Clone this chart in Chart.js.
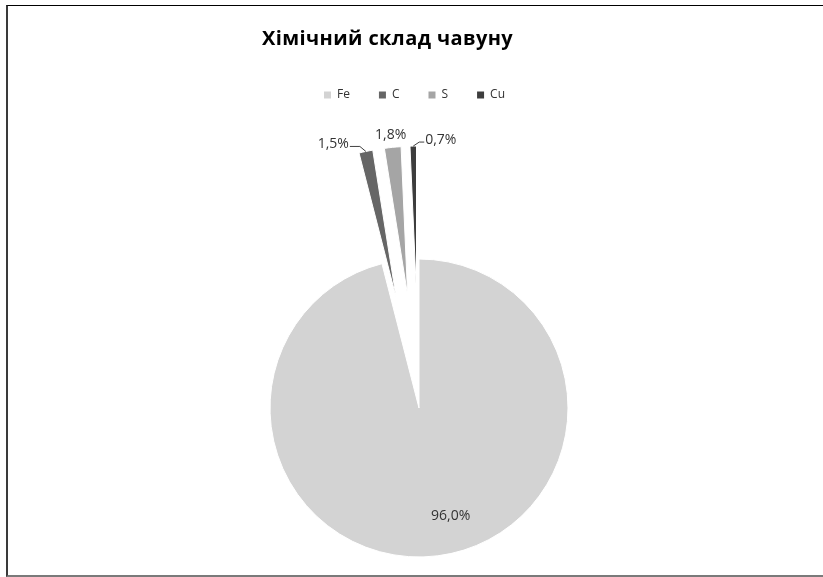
<!DOCTYPE html>
<html>
<head>
<meta charset="utf-8">
<script src="https://cdn.jsdelivr.net/npm/chart.js@4/dist/chart.umd.min.js"></script>
<style>
  html, body { margin: 0; padding: 0; background: #fff; }
  #wrap { position: relative; width: 823px; height: 577px; overflow: hidden; background: #fff; }
  #frame { position: absolute; left: 6px; top: 5px; width: 840px; height: 569px;
           border-top: 1px solid #000; border-left: 2px solid #3a3a3a; border-bottom: 2px solid #7a7a7a; }
  #title { position: absolute; left: 262px; top: 28px; font-family: "Open Sans", sans-serif;
           font-weight: bold; font-size: 20px; line-height: 20px; letter-spacing: 0.4px; color: #000; white-space: nowrap; }
  canvas { position: absolute; left: 0; top: 0; }
</style>
</head>
<body>
<div id="wrap">
  <div id="frame"></div>
  <canvas id="c" width="823" height="720"></canvas>
  <div id="title">Хімічний склад чавуну</div>
</div>
<script>
// ---- data ----
const categories = ['Fe', 'C', 'S', 'Cu'];
const values = [96.0, 1.5, 1.8, 0.7];

// ---- styles ----
const colors = ['#d3d3d3', '#666666', '#a5a5a5', '#3d3d3d'];
const explode = [0, 113, 113, 113];
const labelStyle = [
  { mode: 'inside', frac: 0.73, dx: 18 },
  { mode: 'left' },
  { mode: 'above' },
  { mode: 'right' }
];

const explodePlugin = {
  id: 'explodeSlices',
  afterDatasetsUpdate(chart) {
    const meta = chart.getDatasetMeta(0);
    meta.data.forEach((arc, i) => {
      const d = explode[i] || 0;
      if (!d) return;
      const mid = (arc.startAngle + arc.endAngle) / 2;
      arc.x += Math.cos(mid) * d;
      arc.y += Math.sin(mid) * d;
    });
  }
};

const labelPlugin = {
  id: 'sliceLabels',
  afterDatasetsDraw(chart) {
    const ctx = chart.ctx;
    const meta = chart.getDatasetMeta(0);
    const total = values.reduce((a, b) => a + b, 0);
    ctx.save();
    ctx.font = '14px "Open Sans", sans-serif';
    ctx.fillStyle = '#333333';
    ctx.strokeStyle = '#404040';
    ctx.lineWidth = 1;
    ctx.textBaseline = 'middle';
    meta.data.forEach((arc, i) => {
      const txt = (values[i] / total * 100).toFixed(1).replace('.', ',') + '%';
      const mid = (arc.startAngle + arc.endAngle) / 2;
      const st = labelStyle[i];
      const R = arc.outerRadius;
      if (st.mode === 'inside') {
        const x = arc.x + Math.cos(mid) * R * st.frac + (st.dx || 0);
        const y = arc.y + Math.sin(mid) * R * st.frac;
        ctx.textAlign = 'center';
        ctx.fillText(txt, x, y);
        return;
      }
      const ax = arc.x + Math.cos(mid) * R;
      const ay = arc.y + Math.sin(mid) * R;
      if (st.mode === 'left') {
        ctx.beginPath();
        ctx.moveTo(ax, ay);
        ctx.lineTo(ax - 6, ay - 5);
        ctx.lineTo(ax - 16, ay - 5);
        ctx.stroke();
        ctx.textAlign = 'right';
        ctx.fillText(txt, ax - 17, ay - 7);
      } else if (st.mode === 'right') {
        ctx.beginPath();
        ctx.moveTo(ax, ay);
        ctx.lineTo(ax + 6, ay - 4);
        ctx.lineTo(ax + 11, ay - 4);
        ctx.stroke();
        ctx.textAlign = 'left';
        ctx.fillText(txt, ax + 12, ay - 6);
      } else {
        ctx.textAlign = 'center';
        ctx.fillText(txt, ax - 2, ay - 12);
      }
    });
    ctx.restore();
  }
};

new Chart(document.getElementById('c'), {
  type: 'pie',
  data: {
    labels: categories,
    datasets: [{
      data: values,
      backgroundColor: colors,
      borderColor: '#ffffff',
      borderWidth: 1
    }]
  },
  options: {
    responsive: false,
    animation: false,
    devicePixelRatio: 1,
    radius: 149,
    layout: { padding: { left: 295, right: 280, top: 60, bottom: 15 } },
    plugins: {
      title: { display: false },
      tooltip: { enabled: false },
      legend: {
        display: true,
        position: 'top',
        align: 'start',
        labels: {
          boxWidth: 7,
          boxHeight: 7,
          padding: 29,
          color: '#333333',
          font: { family: '"Open Sans", sans-serif', size: 12 },
          generateLabels(chart) {
            const items = Chart.overrides.pie.plugins.legend.labels.generateLabels(chart);
            items.forEach(it => { it.lineWidth = 0; });
            return items;
          }
        }
      }
    }
  },
  plugins: [explodePlugin, labelPlugin]
});
</script>
</body>
</html>
